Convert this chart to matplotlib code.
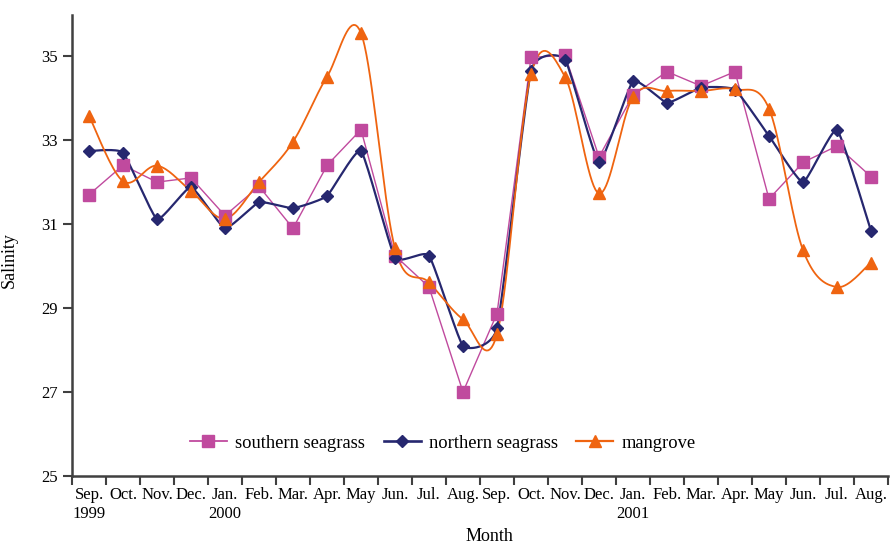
import numpy as np
import matplotlib
matplotlib.use("Agg")
import matplotlib.pyplot as plt

# Monthly salinity, Sep 1999 - Aug 2001
months = ["Sep.", "Oct.", "Nov.", "Dec.", "Jan.", "Feb.", "Mar.", "Apr.", "May", "Jun.", "Jul.", "Aug.",
          "Sep.", "Oct.", "Nov.", "Dec.", "Jan.", "Feb.", "Mar.", "Apr.", "May", "Jun.", "Jul.", "Aug."]
years = {0: "1999", 4: "2000", 16: "2001"}

southern = [31.7, 32.4, 32.0, 32.1, 31.2, 31.9, 30.9, 32.4, 33.25, 30.25, 29.5, 27.0,
            28.87, 34.97, 35.02, 32.6, 34.07, 34.63, 34.29, 34.63, 31.6, 32.47, 32.86, 32.13]
northern = [32.74, 32.7, 31.12, 31.88, 30.9, 31.52, 31.38, 31.67, 32.74, 30.2, 30.25, 28.1,
            28.52, 34.65, 34.92, 32.48, 34.4, 33.89, 34.25, 34.2, 33.1, 32.0, 33.24, 30.84]
mangrove = [33.58, 32.02, 32.39, 31.79, 31.13, 32.0, 32.96, 34.51, 35.55, 30.42, 29.61, 28.73,
            28.38, 34.57, 34.51, 31.73, 34.03, 34.17, 34.17, 34.21, 33.75, 30.38, 29.5, 30.08]


def smooth(y, k=1 / 6, n=20):
    # Bezier segments through each point; k sets how round the curve is (0 = straight)
    y = np.asarray(y, dtype=float)
    x = np.arange(len(y), dtype=float)
    xs, ys = [], []
    t = np.linspace(0, 1, n)
    for i in range(len(y) - 1):
        i0, i3 = max(i - 1, 0), min(i + 2, len(y) - 1)
        p0 = np.array([x[i], y[i]])
        p3 = np.array([x[i + 1], y[i + 1]])
        c1 = p0 + (np.array([x[i + 1], y[i + 1]]) - np.array([x[i0], y[i0]])) * k
        c2 = p3 - (np.array([x[i3], y[i3]]) - np.array([x[i], y[i]])) * k
        b = ((1 - t) ** 3)[:, None] * p0 + (3 * (1 - t) ** 2 * t)[:, None] * c1 \
            + (3 * (1 - t) * t ** 2)[:, None] * c2 + (t ** 3)[:, None] * p3
        xs.extend(b[:, 0])
        ys.extend(b[:, 1])
    return np.array(xs), np.array(ys)


plt.rcParams['font.family'] = ['Liberation Serif', 'DejaVu Serif']

fig = plt.figure(figsize=(8.9, 5.45), dpi=100)
ax = fig.add_axes([72 / 890, 1 - 476 / 545, 816 / 890, 461 / 545])

# label, values, colour, marker, marker size, line width, curve roundness
series = [
    ("southern seagrass", southern, "#C04A9E", "s", 8, 1.0, 0),
    ("northern seagrass", northern, "#26276F", "D", 6.5, 1.6, 1 / 14),
    ("mangrove", mangrove, "#EF6410", "^", 9, 1.3, 1 / 6),
]
x = np.arange(len(months))
handles = []
for label, vals, color, mk, ms, lw, k in series:
    sx, sy = smooth(vals, k)
    ax.plot(sx, sy, color=color, lw=lw, zorder=2)
    ax.plot(x, vals, ls="none", marker=mk, ms=ms, color=color, mec=color, zorder=3)
    h, = ax.plot([], [], color=color, lw=lw + 0.3, marker=mk, ms=ms, mec=color)
    handles.append(h)

ax.set_xlim(-0.5, len(months) - 0.5)
ax.set_ylim(25, 35.98)

ax.set_yticks([25, 27, 29, 31, 33, 35])
ax.set_xticks(np.arange(len(months) + 1) - 0.5)
ax.set_xticklabels([])
ax.set_xticks(x, minor=True)
ax.set_xticklabels([m + ("\n" + years[i] if i in years else "") for i, m in enumerate(months)],
                   minor=True)

for side in ["top", "right"]:
    ax.spines[side].set_visible(False)
for side in ["left", "bottom"]:
    ax.spines[side].set_linewidth(1.8)
    ax.spines[side].set_color("#404040")

ax.tick_params(axis="both", which="major", length=6.5, width=1.5, color="#404040",
               labelsize=12, pad=4)
ax.tick_params(axis="x", which="minor", length=0, labelsize=12, pad=8)

ax.set_ylabel("Salinity", fontsize=13)
ax.yaxis.set_label_coords(-0.067, 0.469)
ax.set_xlabel("Month", fontsize=13)
ax.xaxis.set_label_coords(0.512, -0.113)

ax.legend(handles, [s[0] for s in series], loc="center left", ncol=3, frameon=False,
          bbox_to_anchor=((190 - 72) / 816, (476 - 443) / 461), borderpad=0, borderaxespad=0,
          fontsize=13.3, handlelength=2.0, handletextpad=0.45, columnspacing=1.0)

fig.savefig("out.png", dpi=100)
